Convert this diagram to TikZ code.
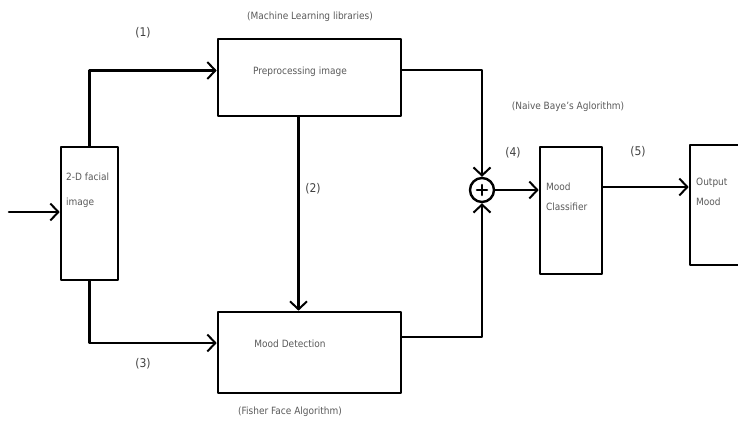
\documentclass[tikz,border=0pt]{standalone}
\usepackage{fontspec}
\setmainfont{DejaVu Sans Condensed}
\usepackage{tikz}
\usetikzlibrary{arrows.meta}

\tikzset{
  blk/.style={draw,line width=2.6pt,rectangle,inner sep=0pt},
  txt/.style={text=black!65,font=\fontsize{10}{12}\selectfont,inner sep=0pt},
  num/.style={text=black!75,font=\fontsize{12}{14}\selectfont,inner sep=0pt},
  con/.style={line width=2.6pt,->}
}

\begin{document}
\begin{tikzpicture}[line cap=round,line join=round,>={Straight Barb[length=8pt,width=17pt,line width=2pt]},x=1pt,y=-1pt]
\useasboundingbox (0,0) rectangle (738,424);
\clip (0,0) rectangle (738,424);
% blocks
\node[blk,minimum width=57pt,minimum height=133pt] (facial) at (89.5,213.5) {};
\node[blk,minimum width=183pt,minimum height=77pt] (prep) at (309.5,77.5) {};
\node[blk,minimum width=183pt,minimum height=81pt] (det) at (309.5,352.5) {};
\node[draw,line width=2.4pt,circle,minimum size=24pt,inner sep=0pt] (sum) at (482,190) {};
\node[blk,minimum width=62pt,minimum height=127pt] (cls) at (571,210.5) {};
\node[blk,minimum width=70pt,minimum height=120pt] (out) at (725,205) {};
\draw[line width=2.6pt] (sum.center) ++(-5,0) -- ++(10,0);
\draw[line width=2.6pt] (sum.center) ++(0,-5) -- ++(0,10);
% texts inside
\node[txt,anchor=west,align=left] (facialtxt) at (66,190) {2-D facial\\[13pt]image};
\node[txt,anchor=west,align=left] (clstxt) at (546,197) {Mood\\[8pt]Classifier};
\node[txt,anchor=west,align=left] (outtxt) at (696,192) {Output\\[8pt]Mood};
\node[txt] (preptxt) at (300,72) {Preprocessing image};
\node[txt] (dettxt) at (290,344) {Mood Detection};
% notes
\node[txt] (ml) at (310,17) {(Machine Learning libraries)};
\node[txt] (nb) at (568,107) {(Naive Baye's Aglorithm)};
\node[txt] (ff) at (290,412) {(Fisher Face Algorithm)};
\node[num] (n1) at (143,33) {(1)};
\node[num] (n2) at (313,189) {(2)};
\node[num] (n3) at (143,364) {(3)};
\node[num] (n4) at (513,153) {(4)};
\node[num] (n5) at (638,152) {(5)};
% connectors
\coordinate (in) at (9,212);
\draw[con] (in) -- (in -| facial.west);
\draw[con] (facial.north) |- ([yshift=7pt]prep.west);
\draw[con] ([xshift=-11pt]prep.south) -- ([xshift=-11pt]det.north);
\draw[con] (facial.south) |- ([yshift=9.5pt]det.west);
\draw[con] ([yshift=7.5pt]prep.east) -| (sum.north);
\draw[con] ([yshift=15.5pt]det.east) -| (sum.south);
\draw[con] (sum.east) -- (sum.east -| cls.west);
\draw[con] ([yshift=23.5pt]cls.east) -- ([yshift=23.5pt]cls.east -| out.west);
\end{tikzpicture}
\end{document}
